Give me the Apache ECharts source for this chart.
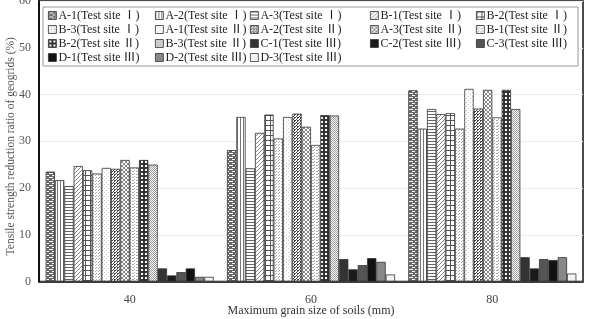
<!DOCTYPE html>
<html>
<head>
<meta charset="utf-8">
<script src="https://cdn.jsdelivr.net/npm/echarts@6/dist/echarts.min.js"></script>
<style>
  html, body { margin: 0; padding: 0; background: #fff; }
  #chart { width: 589px; height: 319px; }
</style>
</head>
<body>
<div id="chart"></div>
<script>
// data
const categories = ['40', '60', '80'];
const seriesNames = [
    'A-1(Test site Ⅰ)', 'A-2(Test site Ⅰ)', 'A-3(Test site Ⅰ)', 'B-1(Test site Ⅰ)', 'B-2(Test site Ⅰ)',
    'B-3(Test site Ⅰ)', 'A-1(Test site Ⅱ)', 'A-2(Test site Ⅱ)', 'A-3(Test site Ⅱ)', 'B-1(Test site Ⅱ)',
    'B-2(Test site Ⅱ)', 'B-3(Test site Ⅱ)', 'C-1(Test site Ⅲ)', 'C-2(Test site Ⅲ)', 'C-3(Test site Ⅲ)',
    'D-1(Test site Ⅲ)', 'D-2(Test site Ⅲ)', 'D-3(Test site Ⅲ)'
];
const valuesAt40 = [23.5, 21.7, 20.4, 24.7, 23.8, 23.1, 24.3, 24.1, 26.0, 24.4, 26.0, 25.0, 2.8, 1.3, 2.0, 2.8, 1.0, 1.0];
const valuesAt60 = [28.1, 35.2, 24.2, 31.8, 35.7, 30.6, 35.2, 35.9, 33.1, 29.2, 35.6, 35.5, 4.8, 2.6, 3.5, 5.0, 4.2, 1.5];
const valuesAt80 = [40.9, 32.7, 36.9, 35.8, 36.0, 32.7, 41.2, 37.0, 41.0, 35.1, 41.0, 36.9, 5.2, 2.8, 4.8, 4.6, 5.2, 1.7];
const yTicks = [0, 10, 20, 30, 40, 50, 60];

// little canvas tiles for the black & white fills
function tile(w, h, bg, draw) {
    const c = document.createElement('canvas');
    c.width = w; c.height = h;
    const g = c.getContext('2d');
    g.fillStyle = bg;
    g.fillRect(0, 0, w, h);
    draw(g);
    return { image: c, repeat: 'repeat' };
}
function px(g, col, pts) {
    g.fillStyle = col;
    pts.forEach(p => g.fillRect(p[0], p[1], p[2] || 1, p[3] || 1));
}

const fills = [
    // A-1 I brick
    tile(6, 4, '#666', g => px(g, '#fff', [[1, 1, 4, 1], [0, 3, 1, 1], [4, 3, 2, 1]])),
    // A-2 I vertical lines
    tile(3, 1, '#fff', g => px(g, '#777', [[0, 0]])),
    // A-3 I horizontal lines
    tile(1, 3, '#fff', g => px(g, '#666', [[0, 0]])),
    // B-1 I wide diagonal
    tile(4, 4, '#fff', g => px(g, '#888', [[3, 0], [2, 1], [1, 2], [0, 3]])),
    // B-2 I grid
    tile(5, 5, '#fff', g => px(g, '#555', [[0, 0, 5, 1], [0, 0, 1, 5]])),
    // B-3 I dots
    tile(3, 3, '#fff', g => px(g, '#aaa', [[0, 0], [2, 1]])),
    // A-1 II sparse dots
    tile(4, 4, '#fff', g => px(g, '#ccc', [[0, 0], [2, 2]])),
    // A-2 II dark checker
    tile(3, 3, '#fff', g => px(g, '#444', [[0, 0, 2, 1], [0, 1, 1, 1], [2, 2]])),
    // A-3 II diagonal cross
    tile(4, 4, '#fff', g => px(g, '#888', [[0, 0], [1, 1], [2, 2], [3, 3], [3, 0], [2, 1], [1, 2], [0, 3]])),
    // B-1 II small dashes
    tile(4, 3, '#fff', g => px(g, '#aaa', [[0, 0, 2, 1], [2, 2]])),
    // B-2 II dark with white holes
    tile(4, 4, '#333', g => px(g, '#fff', [[1, 1, 2, 2]])),
    // B-3 II dense grey
    tile(2, 2, '#fff', g => px(g, '#999', [[0, 0], [1, 1]])),
    '#333', '#1a1a1a', '#555', '#111', '#888', '#f2f2f2'
];

const chart = echarts.init(document.getElementById('chart'));
const font = '"Liberation Serif", "Noto Sans CJK SC", serif';

const legendCols = [
    { left: 48, idx: [0, 5, 10, 15] },
    { left: 155, idx: [1, 6, 11, 16] },
    { left: 250, idx: [2, 7, 12, 17] },
    { left: 370, idx: [3, 8, 13] },
    { left: 476, idx: [4, 9, 14] }
];

const option = {
    backgroundColor: '#fff',
    animation: false,
    grid: {
        left: 39, right: 6, top: 1, bottom: 37.5,
        outerBoundsMode: 'none',
        show: true, borderColor: '#111', borderWidth: 1.5
    },
    graphic: [{
        type: 'rect', z: 3,
        shape: { x: 43, y: 7, width: 535, height: 59 },
        style: { fill: '#fff', stroke: '#999', lineWidth: 1 }
    }],
    legend: legendCols.map(c => ({
        orient: 'vertical',
        left: c.left, top: 9,
        padding: 0,
        icon: 'rect',
        itemWidth: 8, itemHeight: 8, itemGap: 1,
        z: 5,
        data: c.idx.map(i => seriesNames[i]),
        textStyle: { fontFamily: font, fontSize: 12, lineHeight: 13, color: '#222', padding: [0, 0, 0, -3] },
        itemStyle: { borderColor: '#333', borderWidth: 0.8 }
    })),
    xAxis: {
        type: 'category',
        data: categories,
        name: 'Maximum grain size of soils (mm)',
        nameLocation: 'middle',
        nameMoveOverlap: false,
        nameGap: 23,
        nameTextStyle: { fontFamily: font, fontSize: 12, color: '#333' },
        axisLine: { lineStyle: { color: '#111', width: 1.5 } },
        axisTick: { show: false },
        axisLabel: { fontFamily: font, fontSize: 12, color: '#444', margin: 12 }
    },
    yAxis: {
        type: 'value',
        min: yTicks[0], max: yTicks[yTicks.length - 1], interval: 10,
        name: 'Tensile strength reduction ratio of geogrids (%)',
        nameLocation: 'middle',
        nameMoveOverlap: false,
        nameGap: 22,
        nameTextStyle: { fontFamily: font, fontSize: 11.5, color: '#555', padding: [0, 10, 0, 0] },
        axisLine: { show: true, lineStyle: { color: '#111', width: 2 } },
        axisTick: { show: false },
        axisLabel: { fontFamily: font, fontSize: 12, color: '#555', margin: 8 },
        splitLine: { lineStyle: { color: '#eee', width: 1 } }
    },
    series: seriesNames.map((name, i) => ({
        name: name,
        type: 'bar',
        barGap: '0%',
        barCategoryGap: '7.3%',
        data: [valuesAt40[i], valuesAt60[i], valuesAt80[i]],
        itemStyle: { color: fills[i], borderColor: '#333', borderWidth: 0.8 }
    }))
};

chart.setOption(option);
</script>
</body>
</html>
